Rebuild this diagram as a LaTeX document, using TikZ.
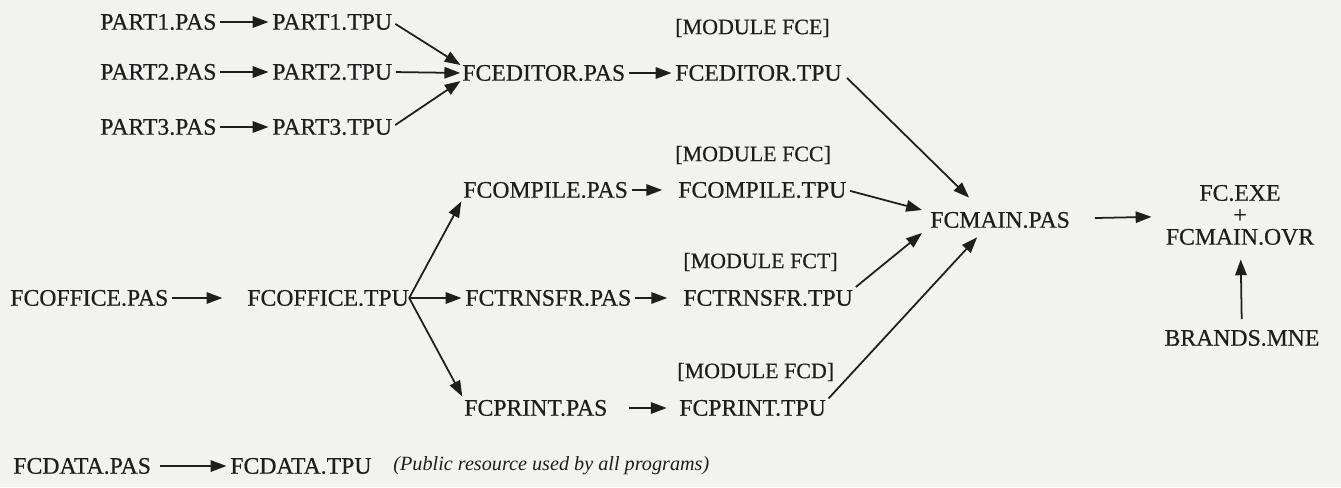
\documentclass[tikz,border=0pt]{standalone}
\usepackage{fontspec}
\setmainfont{Liberation Serif}
\newfontfamily\heavyserif{Liberation Serif}[FakeBold=0.5]
\usetikzlibrary{arrows.meta}
\definecolor{paper}{RGB}{242,242,240}
\definecolor{ink}{RGB}{30,30,30}
\begin{document}
\begin{tikzpicture}[x=0.02cm, y=-0.02cm,
    file/.style={anchor=west, inner sep=0pt, text=ink, font=\heavyserif\fontsize{13.5pt}{15pt}\selectfont},
    modlabel/.style={file, font=\heavyserif\fontsize{12.5pt}{14pt}\selectfont},
    dep/.style={draw=ink, line width=1pt, -{Triangle[length=9pt, width=6.5pt]}, shorten <=2pt, shorten >=2pt}]
    \fill[paper] (0,0) rectangle (1341,487);
    \useasboundingbox (0,0) rectangle (1341,487);
    % editor units
    \node[file] (p1pas) at (100,22) {PART1.PAS};
    \node[file] (p1tpu) at (272,22) {PART1.TPU};
    \node[file] (p2pas) at (100,72) {PART2.PAS};
    \node[file] (p2tpu) at (272,72) {PART2.TPU};
    \node[file] (p3pas) at (100,127) {PART3.PAS};
    \node[file] (p3tpu) at (272,127) {PART3.TPU};
    \node[file] (fcepas) at (462,73) {FCEDITOR.PAS};
    \node[file] (fcetpu) at (675,73) {FCEDITOR.TPU};
    \node[modlabel] (modfce) at (675,28) {[MODULE FCE]};
    % office and its modules
    \node[file] (fcopas) at (10,298) {FCOFFICE.PAS};
    \node[file] (fcotpu) at (247,298) {FCOFFICE.TPU};
    \node[file] (fccpas) at (463,190) {FCOMPILE.PAS};
    \node[file] (fcctpu) at (678,190) {FCOMPILE.TPU};
    \node[modlabel] (modfcc) at (675,155) {[MODULE FCC]};
    \node[file] (fctpas) at (465,298) {FCTRNSFR.PAS};
    \node[file] (fcttpu) at (683,298) {FCTRNSFR.TPU};
    \node[modlabel] (modfct) at (683,262) {[MODULE FCT]};
    \node[file] (fcppas) at (464,408) {FCPRINT.PAS};
    \node[file] (fcptpu) at (679,408) {FCPRINT.TPU};
    \node[modlabel] (modfcd) at (677,372) {[MODULE FCD]};
    % main program
    \node[file] (fcmain) at (930,220) {FCMAIN.PAS};
    \node[file, anchor=center, align=center, font=\heavyserif\fontsize{13.5pt}{12.5pt}\selectfont] (fcout) at (1240,215) {FC.EXE\\+\\FCMAIN.OVR};
    \node[file, anchor=center] (brands) at (1242,338) {BRANDS.MNE};
    % shared data
    \node[file] (fcdpas) at (13,466) {FCDATA.PAS};
    \node[file] (fcdtpu) at (230,466) {FCDATA.TPU};
    \node[file, font=\fontsize{11.5pt}{13pt}\selectfont\itshape] (note) at (393,466) {(Public resource used by all programs)};
    \draw[dep] (p1pas) -- (p1tpu);
    \draw[dep] (p2pas) -- (p2tpu);
    \draw[dep] (p3pas) -- (p3tpu);
    \draw[dep, shorten >=1pt] (p1tpu.east) -- ([yshift=4pt]fcepas.west);
    \draw[dep, shorten >=1pt] (p2tpu.east) -- (fcepas.west);
    \draw[dep, shorten >=1pt] (p3tpu.east) -- ([yshift=-4pt]fcepas.west);
    \draw[dep] (fcepas) -- (fcetpu);
    \draw[dep, shorten >=14pt] (fcopas) -- (fcotpu);
    \draw[dep, shorten <=0pt] (fcotpu.east) -- (fccpas.south west);
    \draw[dep, shorten <=0pt] (fcotpu.east) -- (fctpas.west);
    \draw[dep, shorten <=0pt] (fcotpu.east) -- (fcppas.north west);
    \draw[dep, shorten >=9pt] (fccpas) -- (fcctpu);
    \draw[dep, shorten >=9pt] (fctpas) -- (fcttpu);
    \draw[dep, shorten <=12pt, shorten >=7pt] (fcppas) -- (fcptpu);
    \draw[dep, shorten <=4pt, shorten >=0pt] (fcetpu.east) -- ([shift={(-31,-14)}]fcmain.north);
    \draw[dep, shorten >=0pt] (fcctpu.east) -- ([shift={(-8,-10)}]fcmain.west);
    \draw[dep, shorten >=0pt] ([yshift=5pt]fcttpu.east) -- ([shift={(-8,13)}]fcmain.west);
    \draw[dep, shorten >=0pt] ([yshift=4pt]fcptpu.east) -- ([shift={(-23,9)}]fcmain.south);
    \draw[dep, shorten <=14pt, shorten >=8pt] (fcmain) -- (fcout);
    \draw[dep, shorten <=6pt, shorten >=8pt] (brands) -- (fcout);
    \draw[dep, shorten <=5pt] (fcdpas) -- (fcdtpu);
\end{tikzpicture}
\end{document}
